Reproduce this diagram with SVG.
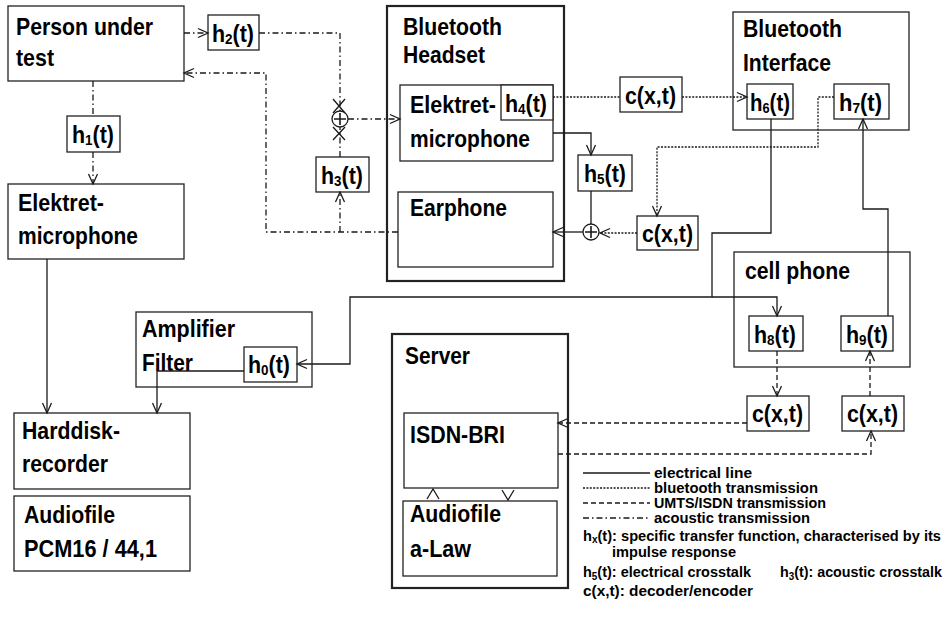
<svg xmlns="http://www.w3.org/2000/svg" width="949" height="622" viewBox="0 0 949 622">
<style>
.bx{fill:#fff;stroke:#222;stroke-width:1.3}
.tk{stroke-width:2.2}
.t{font-family:'Liberation Sans',Arial,sans-serif;font-weight:bold;font-size:24px;fill:#000}
.lg{font-family:'Liberation Sans',Arial,sans-serif;font-weight:bold;font-size:14.6px;fill:#000}
.ln{fill:none;stroke:#1a1a1a;stroke-width:1.3}
.bt{stroke-dasharray:2 1.4}
.um{stroke-dasharray:5 3}
.ac{stroke-dasharray:6 3 1.5 3}
</style>
<defs>
<marker id="a" markerUnits="userSpaceOnUse" markerWidth="12" markerHeight="12" refX="10" refY="5" orient="auto" overflow="visible">
<path d="M0,0.5 L10,5 L0,9.5" fill="none" stroke="#1a1a1a" stroke-width="1.3" stroke-dasharray="none"/>
</marker>
</defs>

<g id="person"><rect class="bx" x="8" y="6" width="176" height="75"/>
<text class="t" x="16" y="35" textLength="137" lengthAdjust="spacingAndGlyphs">Person under</text>
<text class="t" x="16" y="66" textLength="38" lengthAdjust="spacingAndGlyphs">test</text></g>

<g id="h2"><rect class="bx" x="208" y="15" width="51" height="35"/>
<text class="t" x="212" y="42" textLength="42" lengthAdjust="spacingAndGlyphs">h<tspan font-size="15" dy="2">2</tspan><tspan dy="-2">(t)</tspan></text></g>

<g id="h1"><rect class="bx" x="67" y="116" width="53" height="36"/>
<text class="t" x="72" y="143" textLength="42" lengthAdjust="spacingAndGlyphs">h<tspan font-size="15" dy="2">1</tspan><tspan dy="-2">(t)</tspan></text></g>

<g id="mic1"><rect class="bx" x="8" y="184" width="176" height="75"/>
<text class="t" x="18" y="211" textLength="86" lengthAdjust="spacingAndGlyphs">Elektret-</text>
<text class="t" x="18" y="244" textLength="120" lengthAdjust="spacingAndGlyphs">microphone</text></g>

<g id="hdd"><rect class="bx" x="14" y="413" width="176" height="76"/>
<text class="t" x="22" y="439" textLength="98" lengthAdjust="spacingAndGlyphs">Harddisk-</text>
<text class="t" x="22" y="472" textLength="86" lengthAdjust="spacingAndGlyphs">recorder</text></g>

<g id="pcm"><rect class="bx" x="14" y="496" width="176" height="75"/>
<text class="t" x="24" y="523" textLength="91" lengthAdjust="spacingAndGlyphs">Audiofile</text>
<text class="t" x="24" y="557" textLength="133" lengthAdjust="spacingAndGlyphs">PCM16 / 44,1</text></g>

<g id="amp"><rect class="bx" x="136" y="312" width="176" height="75"/>
<text class="t" x="142" y="337" textLength="93" lengthAdjust="spacingAndGlyphs">Amplifier</text>
<text class="t" x="142" y="371" textLength="51" lengthAdjust="spacingAndGlyphs">Filter</text></g>

<g id="h0"><rect class="bx" x="244" y="347" width="53" height="35"/>
<text class="t" x="248" y="373" textLength="42" lengthAdjust="spacingAndGlyphs">h<tspan font-size="15" dy="2">0</tspan><tspan dy="-2">(t)</tspan></text></g>

<g id="h3"><rect class="bx" x="316" y="157" width="53" height="35"/>
<text class="t" x="321" y="184" textLength="42" lengthAdjust="spacingAndGlyphs">h<tspan font-size="15" dy="2">3</tspan><tspan dy="-2">(t)</tspan></text></g>

<g id="headset"><rect class="bx tk" x="387" y="6" width="177" height="275"/>
<text class="t" x="403" y="35" textLength="99" lengthAdjust="spacingAndGlyphs">Bluetooth</text>
<text class="t" x="403" y="63" textLength="82" lengthAdjust="spacingAndGlyphs">Headset</text></g>

<g id="mic2"><rect class="bx" x="400" y="85" width="153" height="76"/>
<text class="t" x="410" y="113" textLength="86" lengthAdjust="spacingAndGlyphs">Elektret-</text>
<text class="t" x="410" y="147" textLength="120" lengthAdjust="spacingAndGlyphs">microphone</text></g>

<g id="h4"><rect class="bx" x="501" y="85" width="52" height="35"/>
<text class="t" x="505" y="112" textLength="42" lengthAdjust="spacingAndGlyphs">h<tspan font-size="15" dy="2">4</tspan><tspan dy="-2">(t)</tspan></text></g>

<g id="earphone"><rect class="bx" x="398" y="192" width="155" height="75"/>
<text class="t" x="410" y="216" textLength="97" lengthAdjust="spacingAndGlyphs">Earphone</text></g>

<g id="c1"><rect class="bx" x="620" y="77" width="62" height="35"/>
<text class="t" x="625" y="104" textLength="51" lengthAdjust="spacingAndGlyphs">c(x,t)</text></g>

<g id="h5"><rect class="bx" x="578" y="155" width="54" height="36"/>
<text class="t" x="584" y="182" textLength="42" lengthAdjust="spacingAndGlyphs">h<tspan font-size="15" dy="2">5</tspan><tspan dy="-2">(t)</tspan></text></g>

<g id="c2"><rect class="bx" x="637" y="216" width="61" height="34"/>
<text class="t" x="642" y="242" textLength="51" lengthAdjust="spacingAndGlyphs">c(x,t)</text></g>

<g id="btif"><rect class="bx" x="733" y="12" width="176" height="118"/>
<text class="t" x="743" y="37" textLength="99" lengthAdjust="spacingAndGlyphs">Bluetooth</text>
<text class="t" x="743" y="71" textLength="88" lengthAdjust="spacingAndGlyphs">Interface</text></g>

<g id="h6"><rect class="bx" x="747" y="84" width="46" height="35"/>
<text class="t" x="750" y="111" textLength="40" lengthAdjust="spacingAndGlyphs">h<tspan font-size="15" dy="2">6</tspan><tspan dy="-2">(t)</tspan></text></g>

<g id="h7"><rect class="bx" x="834" y="84" width="55" height="35"/>
<text class="t" x="839" y="111" textLength="43" lengthAdjust="spacingAndGlyphs">h<tspan font-size="15" dy="2">7</tspan><tspan dy="-2">(t)</tspan></text></g>

<g id="cell"><rect class="bx" x="734" y="252" width="176" height="115"/>
<text class="t" x="745" y="279" textLength="105" lengthAdjust="spacingAndGlyphs">cell phone</text></g>

<g id="h8"><rect class="bx" x="749" y="316" width="54" height="35"/>
<text class="t" x="754" y="343" textLength="42" lengthAdjust="spacingAndGlyphs">h<tspan font-size="15" dy="2">8</tspan><tspan dy="-2">(t)</tspan></text></g>

<g id="h9"><rect class="bx" x="841" y="316" width="52" height="35"/>
<text class="t" x="846" y="343" textLength="42" lengthAdjust="spacingAndGlyphs">h<tspan font-size="15" dy="2">9</tspan><tspan dy="-2">(t)</tspan></text></g>

<g id="c3"><rect class="bx" x="747" y="396" width="62" height="35"/>
<text class="t" x="752" y="422" textLength="51" lengthAdjust="spacingAndGlyphs">c(x,t)</text></g>

<g id="c4"><rect class="bx" x="842" y="396" width="62" height="35"/>
<text class="t" x="847" y="422" textLength="51" lengthAdjust="spacingAndGlyphs">c(x,t)</text></g>

<g id="server"><rect class="bx tk" x="392" y="334" width="176" height="254"/>
<text class="t" x="405" y="364" textLength="65" lengthAdjust="spacingAndGlyphs">Server</text></g>

<g id="isdn"><rect class="bx" x="404" y="413" width="154" height="75"/>
<text class="t" x="410" y="443" textLength="95" lengthAdjust="spacingAndGlyphs">ISDN-BRI</text></g>

<g id="alaw"><rect class="bx" x="403" y="501" width="154" height="75"/>
<text class="t" x="410" y="522" textLength="91" lengthAdjust="spacingAndGlyphs">Audiofile</text>
<text class="t" x="410" y="557" textLength="61" lengthAdjust="spacingAndGlyphs">a-Law</text></g>

<g id="sum1"><circle cx="340" cy="119" r="8" fill="#fff" stroke="#1a1a1a" stroke-width="1.3"/>
<path d="M334,119 H346 M340,113 V125" stroke="#1a1a1a" stroke-width="1.6"/></g>
<g id="sum2"><circle cx="591" cy="232" r="8" fill="#fff" stroke="#1a1a1a" stroke-width="1.3"/>
<path d="M585,232 H597 M591,226 V238" stroke="#1a1a1a" stroke-width="1.6"/></g>

<g id="connectors">
<g class="ln ac">
<path d="M184,33 H208" marker-end="url(#a)"/>
<path d="M259,33 H340 V111"/>
<path d="M348,119 H400" marker-end="url(#a)"/>
<path d="M340,157 V127"/>
<path d="M398,232 H266 V73 H184" marker-end="url(#a)"/>
<path d="M340,232 V192" marker-end="url(#a)"/>
<path d="M93,81 V116"/>
<path d="M93,152 V184" marker-end="url(#a)"/>
</g>
<path class="ln" d="M333,99 L345,113 M345,99 L333,113 M333,127 L345,140 M345,127 L333,140"/>
<g class="ln">
<path d="M47,259 V413" marker-end="url(#a)"/>
<path d="M244,371 H157 V413" marker-end="url(#a)"/>
<path d="M771,119 V233 H712 V297 H350 V364 H297" marker-end="url(#a)"/>
<path d="M712,297 H777 V316" marker-end="url(#a)"/>
<path d="M888,316 V209 H863 V119" marker-end="url(#a)"/>
<path d="M553,133 H591 V155" marker-end="url(#a)"/>
<path d="M591,191 V224"/>
<path d="M583,232 H553" marker-end="url(#a)"/>
<path d="M427,499 L433,489 L439,499 M502,490 L508,500 L514,490"/>
</g>
<g class="ln bt">
<path d="M553,97 H620"/>
<path d="M682,97 H747" marker-end="url(#a)"/>
<path d="M834,97 H818 V147 H657 V216" marker-end="url(#a)"/>
<path d="M637,233 H600" marker-end="url(#a)"/>
</g>
<g class="ln um">
<path d="M777,351 V396" marker-end="url(#a)"/>
<path d="M870,396 V351" marker-end="url(#a)"/>
<path d="M747,423 H558" marker-end="url(#a)"/>
<path d="M558,454 H871 V431" marker-end="url(#a)"/>
</g>
</g>

<g id="legend">
<path class="ln" d="M583,473 H650"/>
<path class="ln bt" d="M583,488 H650"/>
<path class="ln um" d="M583,503 H650"/>
<path class="ln ac" d="M583,518 H650"/>
<text class="lg" x="654" y="478" textLength="98" lengthAdjust="spacingAndGlyphs">electrical line</text>
<text class="lg" x="654" y="493" textLength="164" lengthAdjust="spacingAndGlyphs">bluetooth transmission</text>
<text class="lg" x="654" y="508" textLength="172" lengthAdjust="spacingAndGlyphs">UMTS/ISDN transmission</text>
<text class="lg" x="654" y="523" textLength="156" lengthAdjust="spacingAndGlyphs">acoustic transmission</text>
<text class="lg" x="583" y="541" textLength="358" lengthAdjust="spacingAndGlyphs">h<tspan font-size="10" dy="2">x</tspan><tspan dy="-2">(t): specific transfer function, characterised by its</tspan></text>
<text class="lg" x="612" y="557" textLength="124" lengthAdjust="spacingAndGlyphs">impulse response</text>
<text class="lg" x="583" y="577" textLength="168" lengthAdjust="spacingAndGlyphs">h<tspan font-size="10" dy="3">5</tspan><tspan dy="-3">(t): electrical crosstalk</tspan></text>
<text class="lg" x="780" y="577" textLength="162" lengthAdjust="spacingAndGlyphs">h<tspan font-size="10" dy="3">3</tspan><tspan dy="-3">(t): acoustic crosstalk</tspan></text>
<text class="lg" x="583" y="596" textLength="170" lengthAdjust="spacingAndGlyphs">c(x,t): decoder/encoder</text>
</g>
</svg>
